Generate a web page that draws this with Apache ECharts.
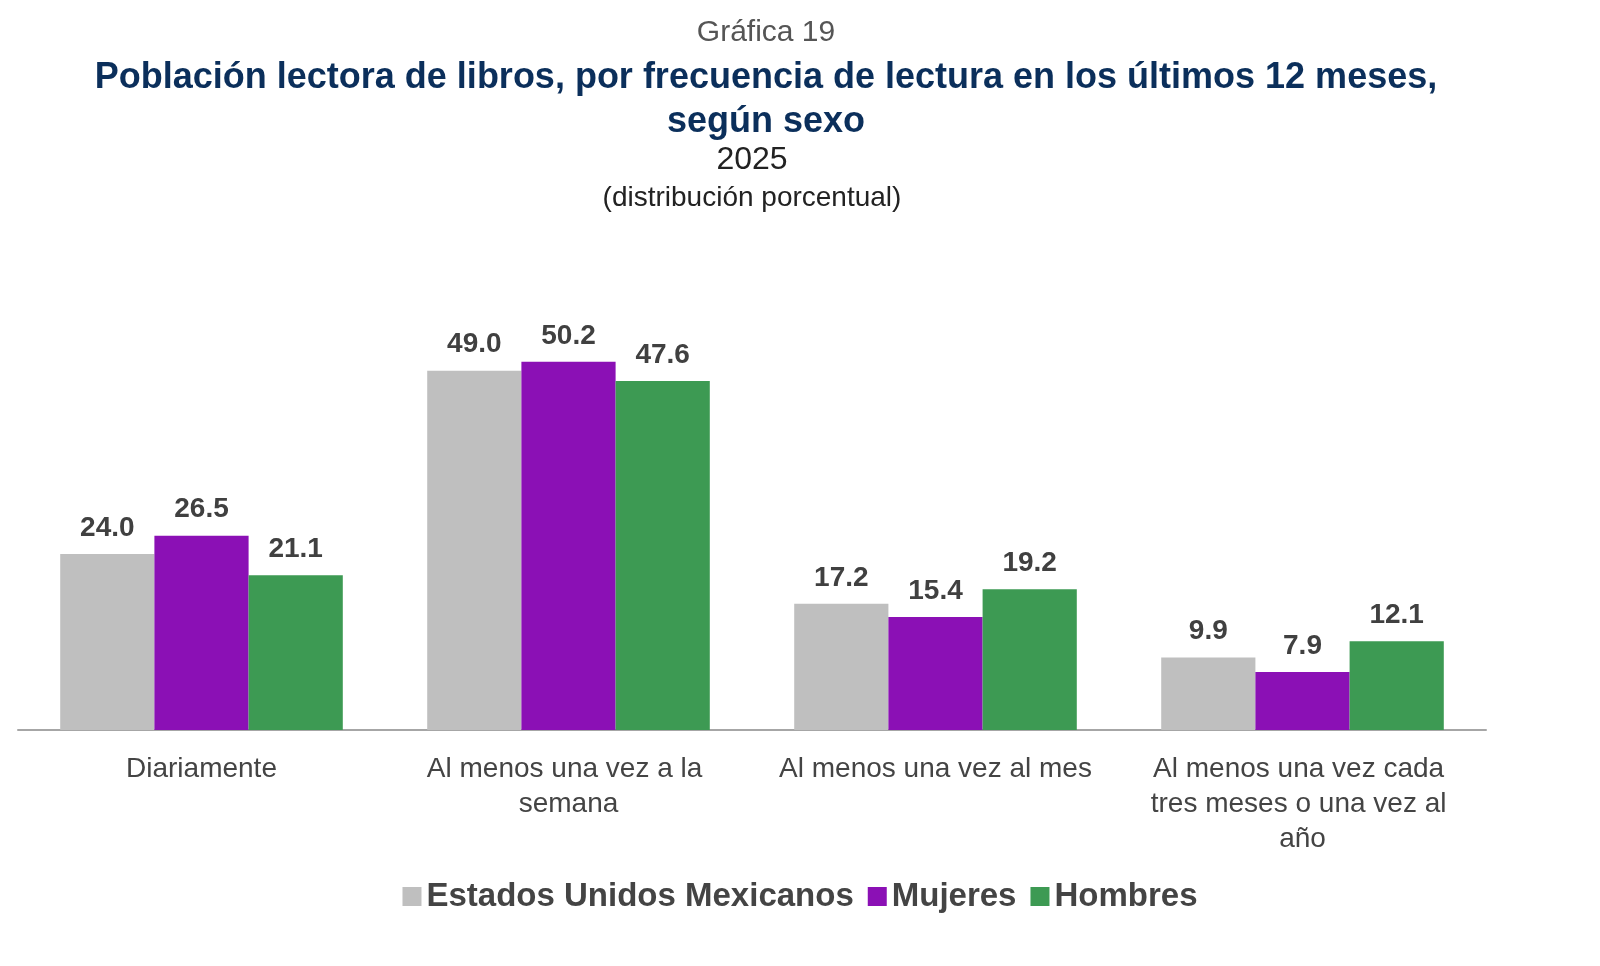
<!DOCTYPE html>
<html lang="es">
<head>
<meta charset="UTF-8">
<title>Gráfica 19</title>
<script src="https://cdn.jsdelivr.net/npm/echarts@6/dist/echarts.min.js"></script>
<style>body{margin:0;background:#fff}</style>
</head>
<body>
<div id="main" style="width:1600px;height:966px;"></div>
<script>
var categories = ['Diariamente', 'Al menos una vez a la semana', 'Al menos una vez al mes', 'Al menos una vez cada tres meses o una vez al año'];
var nacional = [24.0, 49.0, 17.2, 9.9];
var mujeres = [26.5, 50.2, 15.4, 7.9];
var hombres = [21.1, 47.6, 19.2, 12.1];

var chart = echarts.init(document.getElementById('main'));
var lbl = {
    show: true, position: 'top', distance: 12,
    fontFamily: 'Arial, Liberation Sans', fontWeight: 'bold', fontSize: 28, color: '#404040',
    formatter: function (p) { return p.value.toFixed(1); }
};
function serie(name, data, color) {
    return { name: name, type: 'bar', data: data, barGap: '0%', barCategoryGap: '23%',
        itemStyle: { color: color }, label: lbl };
}
var ff = 'Arial, Liberation Sans';
chart.setOption({
    textStyle: { fontFamily: ff },
    graphic: [
        { type: 'text', x: 766, y: 18, style: { text: 'Gráfica 19', fontSize: 30, fill: '#555', align: 'center', fontFamily: ff } },
        { type: 'text', x: 766, y: 56, style: { text: 'Población lectora de libros, por frecuencia de lectura en los últimos 12 meses,\nsegún sexo', fontSize: 36, lineHeight: 44, fontWeight: 'bold', fill: '#0b2f5b', align: 'center', fontFamily: ff } },
        { type: 'text', x: 752, y: 144, style: { text: '2025', fontSize: 32, fill: '#222', align: 'center', fontFamily: ff } },
        { type: 'text', x: 752, y: 184, style: { text: '(distribución porcentual)', fontSize: 28, fill: '#222', align: 'center', fontFamily: ff } }
    ],
    legend: {
        bottom: 48, left: 'center', itemWidth: 19, itemHeight: 19, itemGap: 14,
        icon: 'rect',
        textStyle: { fontSize: 33, fontWeight: 'bold', color: '#444' },
        data: ['Estados Unidos Mexicanos', 'Mujeres', 'Hombres']
    },
    grid: { left: 18, right: 114, top: 290, bottom: 236 },
    xAxis: {
        type: 'category', data: categories,
        axisLine: { lineStyle: { color: '#a6a6a6', width: 2 } },
        axisTick: { show: false },
        axisLabel: { fontSize: 28, color: '#444', margin: 22, lineHeight: 35, width: 330, overflow: 'break', interval: 0 }
    },
    yAxis: { type: 'value', min: 0, max: 60, show: false, splitLine: { show: false } },
    series: [
        serie('Estados Unidos Mexicanos', nacional, '#bfbfbf'),
        serie('Mujeres', mujeres, '#8b10b5'),
        serie('Hombres', hombres, '#3d9a53')
    ]
});
</script>
</body>
</html>
